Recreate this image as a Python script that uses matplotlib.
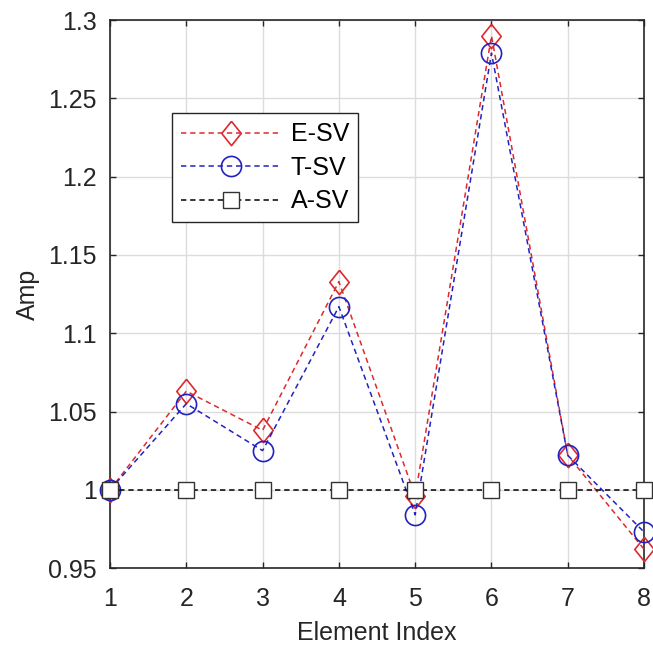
import matplotlib.pyplot as plt

# values
element_index = [1, 2, 3, 4, 5, 6, 7, 8]
e_sv = [1.000, 1.063, 1.038, 1.133, 0.996, 1.290, 1.022, 0.962]
t_sv = [1.000, 1.055, 1.025, 1.117, 0.984, 1.279, 1.022, 0.973]
a_sv = [1.000, 1.000, 1.000, 1.000, 1.000, 1.000, 1.000, 1.000]
x_ticks = [1, 2, 3, 4, 5, 6, 7, 8]
y_ticks = [0.95, 1.0, 1.05, 1.1, 1.15, 1.2, 1.25, 1.3]
y_tick_labels = ['0.95', '1', '1.05', '1.1', '1.15', '1.2', '1.25', '1.3']

plt.rcParams['font.family'] = ['Liberation Sans', 'DejaVu Sans']

fig = plt.figure(figsize=(6.53, 6.46), dpi=100)
ax = fig.add_axes([0.1685, 0.1207, 0.8178, 0.848])

red = '#dc2a2e'
blue = '#2222c0'
dash = (3.5, 2.5)
# matlab-style diamond, a bit taller than wide
diamond = [(0, 1), (0.8, 0), (0, -1), (-0.8, 0), (0, 1)]

ax.plot(element_index, e_sv, color=red, ls='--', dashes=dash, lw=1.1,
        marker=diamond, ms=17.5, mfc='none', mec=red, mew=1.2, clip_on=False,
        label='E-SV', zorder=3)
ax.plot(element_index, t_sv, color=blue, ls='--', dashes=dash, lw=1.1,
        marker='o', ms=14.5, mfc='none', mec=blue, mew=1.2, clip_on=False,
        label='T-SV', zorder=4)
ax.plot(element_index, a_sv, color='black', ls='--', dashes=dash, lw=1.1,
        marker='s', ms=12, mfc='white', mec='#333333', mew=1.0, clip_on=False,
        label='A-SV', zorder=5)

ax.set_xlim(1, 8)
ax.set_ylim(0.95, 1.3)
ax.set_xticks(x_ticks)
ax.set_yticks(y_ticks)
ax.set_yticklabels(y_tick_labels)
ax.tick_params(direction='in', top=True, right=True, length=4.5, width=1,
               labelsize=18, colors='#262626')
ax.tick_params(axis='x', pad=14)
ax.tick_params(axis='y', pad=9.5)
ax.grid(True, color='#dcdcdc', lw=1)
ax.set_axisbelow(True)
for s in ax.spines.values():
    s.set_color('#262626')
    s.set_linewidth(1.2)

ax.set_xlabel('Element Index', fontsize=18, color='#262626', labelpad=6.5)
ax.set_ylabel('Amp', fontsize=18, color='#262626', labelpad=6)

leg = ax.legend(loc='upper left', bbox_to_anchor=(0.116, 0.830), fontsize=18,
                handlelength=4.0, handletextpad=0.4, borderpad=0.36,
                labelspacing=0.38, borderaxespad=0, fancybox=False,
                framealpha=1, edgecolor='#262626')
leg.get_frame().set_linewidth(1.0)
leg.set_zorder(10)

fig.savefig('out.png', dpi=100)
